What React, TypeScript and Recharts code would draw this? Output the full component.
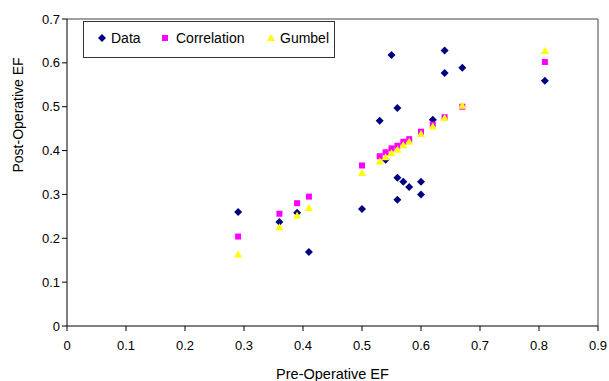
import {
  ScatterChart,
  Scatter,
  XAxis,
  YAxis,
  ReferenceLine,
} from "recharts";

// Pre-Operative EF (x) / Post-Operative EF (y)
const dataX = [0.29, 0.36, 0.39, 0.41, 0.5, 0.53, 0.54, 0.55, 0.56, 0.56, 0.56, 0.57, 0.58, 0.6, 0.6, 0.62, 0.64, 0.64, 0.67, 0.81];
const dataY = [0.26, 0.237, 0.258, 0.169, 0.267, 0.468, 0.379, 0.618, 0.497, 0.338, 0.288, 0.329, 0.317, 0.329, 0.3, 0.47, 0.628, 0.577, 0.589, 0.559];

const modelX = [0.29, 0.36, 0.39, 0.41, 0.5, 0.53, 0.54, 0.55, 0.56, 0.57, 0.58, 0.6, 0.62, 0.64, 0.67, 0.81];
const correlationY = [0.204, 0.256, 0.28, 0.295, 0.366, 0.387, 0.396, 0.405, 0.411, 0.42, 0.426, 0.443, 0.459, 0.476, 0.5, 0.602];
const gumbelY = [0.163, 0.225, 0.252, 0.269, 0.349, 0.375, 0.385, 0.394, 0.402, 0.412, 0.42, 0.438, 0.455, 0.474, 0.502, 0.627];

const xTicks = [0, 0.1, 0.2, 0.3, 0.4, 0.5, 0.6, 0.7, 0.8, 0.9];
const yTicks = [0, 0.1, 0.2, 0.3, 0.4, 0.5, 0.6, 0.7];

const dataPoints = dataX.map((x, i) => ({ x, y: dataY[i] }));
const correlationPoints = modelX.map((x, i) => ({ x, y: correlationY[i] }));
const gumbelPoints = modelX.map((x, i) => ({ x, y: gumbelY[i] }));

const NAVY = "#000080";
const PINK = "#FF00FF";
const YELLOW = "#FFFF00";
const FONT = "'Liberation Sans', Arial, sans-serif";

const Diamond = ({ cx, cy }: any) => (
  <polygon
    points={`${cx},${cy - 4} ${cx + 4},${cy} ${cx},${cy + 4} ${cx - 4},${cy}`}
    fill={NAVY}
  />
);

const Square = ({ cx, cy }: any) => (
  <rect x={cx - 3} y={cy - 3} width={6} height={6} fill={PINK} />
);

const Triangle = ({ cx, cy }: any) => (
  <polygon
    points={`${cx},${cy - 4} ${cx + 4},${cy + 3} ${cx - 4},${cy + 3}`}
    fill={YELLOW}
  />
);

const fmt = (v: number) => String(Math.round(v * 10) / 10);

// legend drawn as an overlay so it does not shrink the plot
const LegendBox = () => (
  <div
    style={{
      position: "absolute",
      left: 83,
      top: 21,
      width: 250,
      height: 35,
      border: "1px solid #333",
      background: "white",
    }}
  >
    <svg width={250} height={35} style={{ position: "absolute", left: 0, top: 0 }}>
      <Diamond cx={18} cy={16} />
      <text x={27} y={21} fontSize={14} fontFamily={FONT}>Data</text>
      <Square cx={81} cy={16} />
      <text x={92} y={21} fontSize={14} fontFamily={FONT}>Correlation</text>
      <Triangle cx={187} cy={16} />
      <text x={196} y={21} fontSize={14} fontFamily={FONT}>Gumbel</text>
    </svg>
  </div>
);

export default function App() {
  return (
    <div style={{ position: "absolute", left: 0, top: 0, width: 609, height: 381, background: "white" }}>
      <ScatterChart
        width={609}
        height={381}
        margin={{ top: 19, right: 11, bottom: 25, left: 10 }}
      >
        <XAxis
          type="number"
          dataKey="x"
          domain={[0, 0.9]}
          ticks={xTicks}
          tickFormatter={fmt}
          height={30}
          stroke="#000"
          tickSize={5}
          tickMargin={10}
          tick={{ fill: "#000", fontSize: 13, fontFamily: FONT }}
          label={{
            value: "Pre-Operative EF",
            position: "insideBottom",
            offset: -23,
            fill: "#000",
            fontSize: 14.5,
            fontFamily: FONT,
          }}
        />
        <YAxis
          type="number"
          dataKey="y"
          domain={[0, 0.7]}
          ticks={yTicks}
          tickFormatter={fmt}
          width={57}
          stroke="#000"
          tickSize={5}
          tick={{ fill: "#000", fontSize: 13, fontFamily: FONT }}
          label={{
            value: "Post-Operative EF",
            angle: -90,
            position: "insideLeft",
            offset: 8,
            fill: "#000",
            fontSize: 14,
            fontFamily: FONT,
          }}
        />
        <ReferenceLine y={0.7} stroke="#808080" strokeWidth={1.5} />
        <ReferenceLine x={0.9} stroke="#808080" strokeWidth={1.5} />
        <Scatter name="Data" data={dataPoints} shape={<Diamond />} isAnimationActive={false} />
        <Scatter name="Correlation" data={correlationPoints} shape={<Square />} isAnimationActive={false} />
        <Scatter name="Gumbel" data={gumbelPoints} shape={<Triangle />} isAnimationActive={false} />
      </ScatterChart>
      <LegendBox />
    </div>
  );
}
